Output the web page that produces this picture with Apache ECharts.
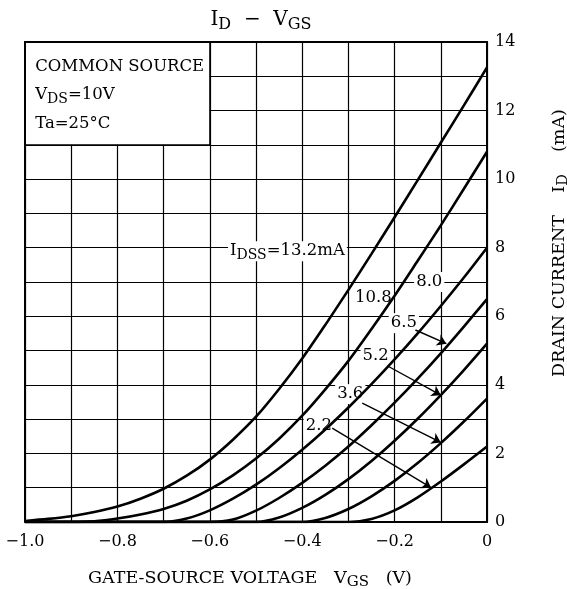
<!DOCTYPE html>
<html><head><meta charset="utf-8">
<script src="https://cdn.jsdelivr.net/npm/echarts@6/dist/echarts.min.js"></script>
<style>html,body{margin:0;padding:0;background:#fff}#c{width:567px;height:589px}</style>
</head><body><div id="c"></div>
<script>
// Gate-source voltage samples (V)
const vgs = [-1.0,-0.95,-0.9,-0.85,-0.8,-0.75,-0.7,-0.65,-0.6,-0.55,-0.5,-0.45,-0.4,-0.35,-0.3,-0.25,-0.2,-0.15,-0.1,-0.05,0];
// Drain current (mA) for each IDSS curve
const id132 = [0.03,0.09,0.17,0.29,0.45,0.68,0.97,1.35,1.82,2.4,3.07,3.88,4.77,5.75,6.77,7.82,8.89,9.97,11.06,12.15,13.26];
const id108 = [0,0,0,0.02,0.1,0.22,0.38,0.62,0.95,1.36,1.85,2.43,3.1,3.87,4.7,5.63,6.6,7.62,8.65,9.72,10.8];
const id80  = [0,0,0,0,0,0,0,0.1,0.34,0.68,1.09,1.57,2.11,2.7,3.34,4.02,4.74,5.5,6.3,7.13,8.0];
const id65  = [0,0,0,0,0,0,0,0,0,0.07,0.33,0.7,1.14,1.64,2.2,2.82,3.48,4.18,4.92,5.7,6.5];
const id52  = [0,0,0,0,0,0,0,0,0,0,0,0.13,0.41,0.79,1.25,1.78,2.37,3.01,3.7,4.43,5.2];
const id36  = [0,0,0,0,0,0,0,0,0,0,0,0,0,0.12,0.38,0.75,1.2,1.72,2.3,2.93,3.6];
const id22  = [0,0,0,0,0,0,0,0,0,0,0,0,0,0,0,0.09,0.34,0.72,1.18,1.68,2.2];
const curveNames = ['13.2','10.8','8.0','6.5','5.2','3.6','2.2'];
const curves = [id132,id108,id80,id65,id52,id36,id22];

const xTickValues = [-1.0,-0.8,-0.6,-0.4,-0.2,0];
const xTickLabels = ['\u22121.0','\u22120.8','\u22120.6','\u22120.4','\u22120.2','0'];
const yTickValues = [0,2,4,6,8,10,12,14];
const yTickLabels = ['0','2','4','6','8','10','12','14'];

// curve labels: [text, vgs, id]
const curveLabels = [
  ['IDSS', -0.432, 7.9],
  ['10.8', -0.246, 6.55],
  ['8.0', -0.125, 7.0],
  ['6.5', -0.18, 5.8],
  ['5.2', -0.241, 4.85],
  ['3.6', -0.296, 3.73],
  ['2.2', -0.364, 2.81]
];
// arrows: [from vgs, from id, to vgs, to id]
const arrows = [
  [-0.155, 5.6, -0.088, 5.2],
  [-0.215, 4.55, -0.1, 3.7],
  [-0.27, 3.47, -0.1, 2.32],
  [-0.335, 2.74, -0.121, 1.0]
];
const boxLines = [
  ['{m|COMMON SOURCE}', -0.978, 13.27],
  ['{m|V}{s|DS}{m|=10V}', -0.978, 12.45],
  ['{m|Ta=25\u00b0C}', -0.978, 11.63]
];

const FONT = 'DejaVu Serif';
const rich = {
  m: {fontFamily: FONT, fontSize: 16.5, color: '#000', lineHeight: 18, fontWeight: 'normal'},
  s: {fontFamily: FONT, fontSize: 14, color: '#000', lineHeight: 14, padding: [9,0,0,0], fontWeight: 'normal'}
};
function lookup(vals, labels, v) {
  for (let i = 0; i < vals.length; i++) if (Math.abs(vals[i] - v) < 1e-6) return labels[i];
  return '';
}

const chart = echarts.init(document.getElementById('c'), null, {renderer: 'canvas'});
const series = curves.map((arr, k) => ({
  type: 'line', name: curveNames[k], z: 3,
  data: vgs.map((x, i) => [x, arr[i]]),
  smooth: 0.3, showSymbol: false, symbol: 'none',
  lineStyle: {color: '#000', width: 2.6}, silent: true
}));
series.push({
  type: 'scatter', z: 1, symbolSize: 0, silent: true,
  itemStyle: {opacity: 1, color: '#000'},
  data: curveLabels.map(l => ({
    value: [l[1], l[2]],
    label: {
      show: true, position: 'inside', backgroundColor: '#fff', padding: [1,2,1,2], color: '#000',
      formatter: l[0] === 'IDSS' ? '{m|I}{s|DSS}{m|=13.2mA}' : '{m|' + l[0] + '}',
      rich: rich
    }
  })),
  markArea: {
    silent: true,
    itemStyle: {color: '#fff', borderColor: '#000', borderWidth: 1.2, opacity: 1},
    data: [[{coord: [-1, 11]}, {coord: [-0.6, 14]}]]
  }
});
series.push({
  type: 'scatter', z: 4, symbolSize: 0, silent: true,
  itemStyle: {opacity: 1, color: '#000'},
  data: boxLines.map(b => ({
    value: [b[1], b[2]],
    label: {show: true, position: 'right', distance: 0, color: '#000', formatter: b[0], rich: rich}
  }))
});
series.push({
  type: 'lines', coordinateSystem: 'cartesian2d', z: 4, silent: true,
  symbol: ['none', 'arrow'], symbolSize: [0, 9],
  lineStyle: {color: '#000', width: 1.4, opacity: 1},
  data: arrows.map(a => ({coords: [[a[0], a[1]], [a[2], a[3]]]}))
});

chart.setOption({
  animation: false,
  backgroundColor: '#fff',
  grid: {left: 25, right: 80, top: 42, bottom: 67, show: false},
  title: {
    text: '{m|I}{s|D}{m|  \u2212  V}{s|GS}', left: 256, top: 4, textAlign: 'center',
    textStyle: {fontWeight: 'normal', rich: {
      m: {fontFamily: FONT, fontSize: 20, color: '#000', lineHeight: 22, fontWeight: 'normal'},
      s: {fontFamily: FONT, fontSize: 16, color: '#000', lineHeight: 16, padding: [10,0,0,0], fontWeight: 'normal'}
    }}
  },
  xAxis: [{
    type: 'value', min: -1, max: 0, interval: 0.1, position: 'bottom',
    axisLine: {show: true, lineStyle: {color: '#000', width: 2}},
    axisTick: {show: false},
    splitLine: {show: true, lineStyle: {color: '#000', width: 1.2}},
    axisLabel: {margin: 12, fontFamily: FONT, fontSize: 16, color: '#000',
      formatter: v => lookup(xTickValues, xTickLabels, Math.round(v * 10) / 10)}
  }, {
    type: 'value', min: -1, max: 0, position: 'top', z: 10,
    axisLine: {show: true, onZero: false, lineStyle: {color: '#000', width: 2}},
    axisTick: {show: false}, axisLabel: {show: false}, splitLine: {show: false}
  }],
  yAxis: [{
    type: 'value', min: 0, max: 14, interval: 1, position: 'right',
    axisLine: {show: true, lineStyle: {color: '#000', width: 2}},
    axisTick: {show: false},
    splitLine: {show: true, lineStyle: {color: '#000', width: 1.2}},
    axisLabel: {margin: 8, fontFamily: FONT, fontSize: 16, color: '#000',
      formatter: v => lookup(yTickValues, yTickLabels, Math.round(v))}
  }, {
    type: 'value', min: 0, max: 14, position: 'left', z: 10,
    axisLine: {show: true, onZero: false, lineStyle: {color: '#000', width: 2}},
    axisTick: {show: false}, axisLabel: {show: false}, splitLine: {show: false}
  }],
  graphic: [{
    type: 'text', x: 250, y: 578, style: {
      text: '{m|GATE-SOURCE VOLTAGE   V}{s|GS}{m|   (V)}', align: 'center', verticalAlign: 'middle',
      rich: {m: {fontFamily: FONT, fontSize: 17.5, lineHeight: 19, fill: '#000'}, s: {fontFamily: FONT, fontSize: 15, lineHeight: 15, padding: [9,0,0,0], fill: '#000'}}
    }
  }, {
    type: 'text', x: 559, y: 243, rotation: Math.PI / 2, style: {
      text: '{m|DRAIN CURRENT    I}{s|D}{m|    (mA)}', align: 'center', verticalAlign: 'middle',
      rich: {m: {fontFamily: FONT, fontSize: 17.5, lineHeight: 19, fill: '#000'}, s: {fontFamily: FONT, fontSize: 14.5, lineHeight: 14, padding: [9,0,0,0], fill: '#000'}}
    }
  }],
  series: series
});
</script></body></html>
